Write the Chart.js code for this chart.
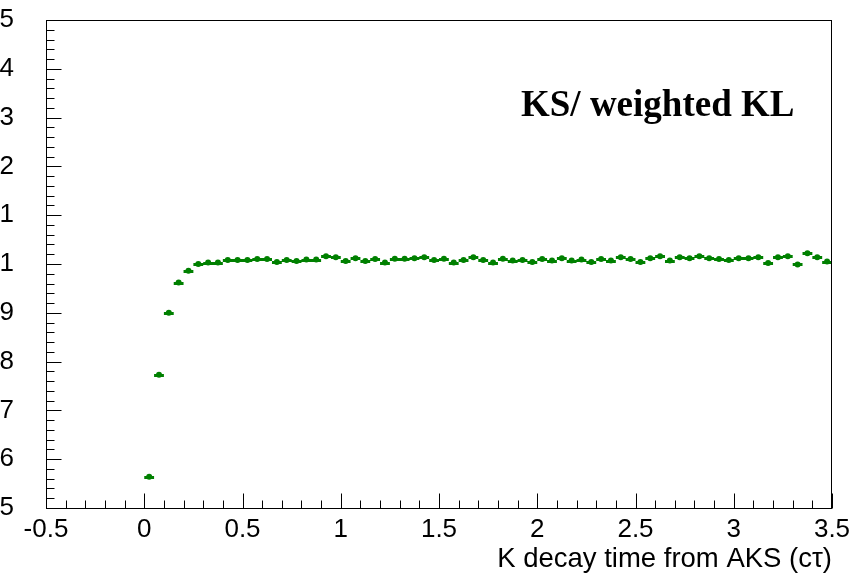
<!DOCTYPE html>
<html><head><meta charset="utf-8">
<script src="https://cdn.jsdelivr.net/npm/chart.js@4/dist/chart.umd.min.js"></script>
<style>html,body{margin:0;padding:0;background:#fff;}canvas{display:block;}</style>
</head><body>
<canvas id="c" width="855" height="576"></canvas>
<script>
// Bin centres (K decay time, c-tau units)
const binCenters = [
  0.025,0.075,0.125,0.175,0.225,0.275,0.325,0.375,0.425,0.475,
  0.525,0.575,0.625,0.675,0.725,0.775,0.825,0.875,0.925,0.975,
  1.025,1.075,1.125,1.175,1.225,1.275,1.325,1.375,1.425,1.475,
  1.525,1.575,1.625,1.675,1.725,1.775,1.825,1.875,1.925,1.975,
  2.025,2.075,2.125,2.175,2.225,2.275,2.325,2.375,2.425,2.475,
  2.525,2.575,2.625,2.675,2.725,2.775,2.825,2.875,2.925,2.975,
  3.025,3.075,3.125,3.175,3.225,3.275,3.325,3.375,3.425,3.475
];
// KS / weighted KL ratio per bin
const ratioValues = [
  0.9564,0.9773,0.9900,0.9962,0.9986,1.0000,1.0003,1.0003,1.0008,1.0008,
  1.0008,1.0010,1.0010,1.0004,1.0008,1.0006,1.0009,1.0009,1.0016,1.0014,
  1.0006,1.0012,1.0006,1.0010,1.0003,1.0011,1.0011,1.0012,1.0014,1.0008,
  1.0011,1.0003,1.0008,1.0014,1.0008,1.0003,1.0011,1.0007,1.0008,1.0004,
  1.0010,1.0007,1.0012,1.0007,1.0009,1.0004,1.0010,1.0007,1.0014,1.0010,
  1.0004,1.0012,1.0016,1.0007,1.0014,1.0012,1.0016,1.0012,1.0010,1.0008,
  1.0012,1.0012,1.0014,1.0002,1.0014,1.0016,0.9999,1.0022,1.0014,1.0005
];
const binHalfWidth = 0.025;

const xMajorTicks = [-0.5,0,0.5,1,1.5,2,2.5,3,3.5];
const xTickLabels = ["-0.5","0","0.5","1","1.5","2","2.5","3","3.5"];
const yMajorTicks = [0.95,0.96,0.97,0.98,0.99,1.00,1.01,1.02,1.03,1.04,1.05];
const yTickLabels = ["0.95","0.96","0.97","0.98","0.99","1","1.01","1.02","1.03","1.04","1.05"];
const nSubdivisions = 5;

const titleText = "KS/ weighted KL";
const xAxisTitle = "K decay time from AKS (c\u03C4)";
const markerColor = "rgb(0,128,0)";

function minorTicks(majors){
  const out = [];
  for (let i = 0; i < majors.length - 1; i++) {
    const step = (majors[i+1] - majors[i]) / nSubdivisions;
    for (let k = 1; k < nSubdivisions; k++) out.push(majors[i] + k*step);
  }
  return out;
}
const xMinorTicks = minorTicks(xMajorTicks);
const yMinorTicks = minorTicks(yMajorTicks);

const framePlugin = {
  id: 'frame',
  beforeDatasetsDraw(chart){
    const {ctx, scales:{x, y}} = chart;
    ctx.save();
    ctx.strokeStyle = markerColor;
    ctx.lineWidth = 3;
    ctx.beginPath();
    binCenters.forEach((c, i) => {
      const py = Math.round(y.getPixelForValue(ratioValues[i])) + 0.5;
      ctx.moveTo(x.getPixelForValue(c - binHalfWidth), py);
      ctx.lineTo(x.getPixelForValue(c + binHalfWidth), py);
    });
    ctx.stroke();
    ctx.restore();
  },
  afterDraw(chart){
    const {ctx, chartArea:a, scales:{x, y}} = chart;
    ctx.save();
    ctx.strokeStyle = '#000';
    ctx.lineWidth = 1;
    ctx.strokeRect(a.left + 0.5, a.top + 0.5, a.right - a.left - 1, a.bottom - a.top);
    ctx.beginPath();
    const L = a.left + 0.5, B = a.bottom + 0.5;
    xMajorTicks.forEach(v => { const px = Math.round(x.getPixelForValue(v)) + 0.5; ctx.moveTo(px, B); ctx.lineTo(px, B - 15); });
    xMinorTicks.forEach(v => { const px = Math.round(x.getPixelForValue(v)) + 0.5; ctx.moveTo(px, B); ctx.lineTo(px, B - 8); });
    yMajorTicks.forEach(v => { const py = Math.round(y.getPixelForValue(v)) + 0.5; ctx.moveTo(L, py); ctx.lineTo(L + 15, py); });
    yMinorTicks.forEach(v => { const py = Math.round(y.getPixelForValue(v)) + 0.5; ctx.moveTo(L, py); ctx.lineTo(L + 8, py); });
    ctx.stroke();
    // plot label
    ctx.fillStyle = '#000';
    ctx.font = 'bold 37px "Liberation Serif", "Times New Roman", serif';
    ctx.textAlign = 'left';
    ctx.textBaseline = 'alphabetic';
    ctx.fillText(titleText, a.left + 475, a.top + 96);
    ctx.restore();
  }
};

new Chart(document.getElementById('c'), {
  type: 'scatter',
  data: {
    datasets: [{
      data: binCenters.map((c, i) => ({x: c, y: ratioValues[i]})),
      backgroundColor: markerColor,
      borderColor: markerColor,
      borderWidth: 0,
      pointRadius: 3,
      pointHoverRadius: 3
    }]
  },
  options: {
    responsive: false,
    animation: false,
    devicePixelRatio: 1,
    events: [],
    layout: {padding: {top: 20, right: 23, left: 0, bottom: 0}},
    plugins: {legend: {display: false}, tooltip: {enabled: false}, title: {display: false}},
    scales: {
      x: {
        type: 'linear', position: 'bottom', min: -0.5, max: 3.5,
        afterBuildTicks: s => { s.ticks = xMajorTicks.map(v => ({value: v})); },
        afterFit: s => { s.height = 68; s.paddingLeft = 0; s.paddingRight = 0; },
        grid: {display: false, drawTicks: false},
        border: {display: false},
        ticks: {
          callback: (v, i) => xTickLabels[i],
          font: {family: '"Liberation Sans", Arial, sans-serif', size: 26},
          color: '#000', padding: 6, maxRotation: 0, autoSkip: false
        },
        title: {
          display: true, text: xAxisTitle, align: 'end', color: '#000',
          font: {family: '"Liberation Sans", Arial, sans-serif', size: 27.5},
          padding: {top: 0, bottom: 0}
        }
      },
      y: {
        type: 'linear', position: 'left', min: 0.95, max: 1.05,
        afterBuildTicks: s => { s.ticks = yMajorTicks.map(v => ({value: v})); },
        afterFit: s => { s.width = 46; s.paddingTop = 0; s.paddingBottom = 0; },
        grid: {display: false, drawTicks: false},
        border: {display: false},
        ticks: {
          callback: (v, i) => yTickLabels[i],
          font: {family: '"Liberation Sans", Arial, sans-serif', size: 26},
          color: '#000', padding: 32, autoSkip: false
        }
      }
    }
  },
  plugins: [framePlugin]
});
</script>
</body></html>
